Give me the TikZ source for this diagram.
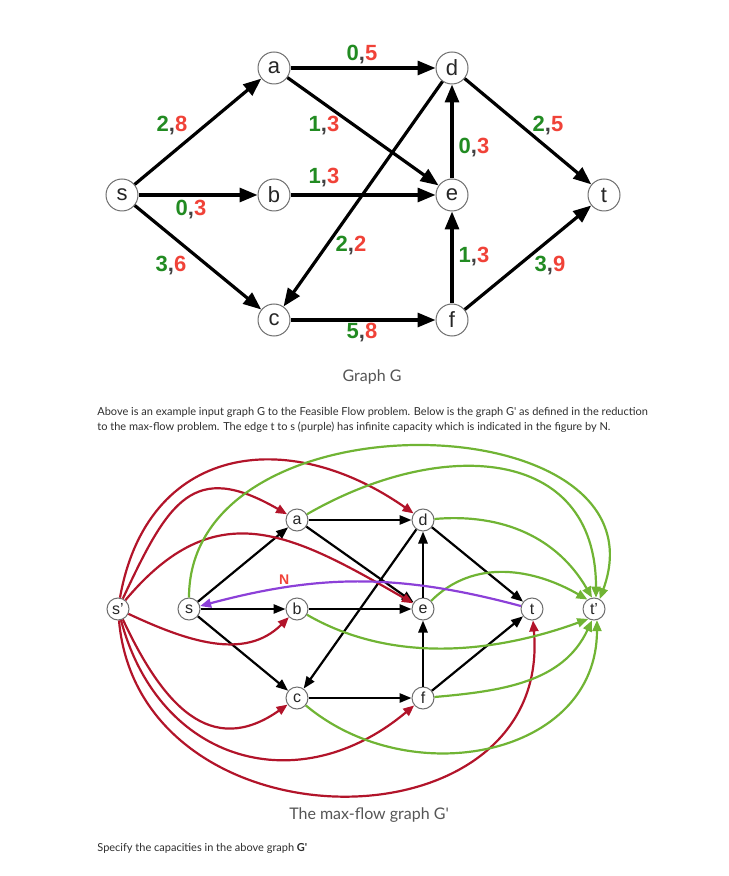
\documentclass[tikz,border=0pt]{standalone}
\usepackage{fontspec}
\setmainfont{Liberation Sans}
\newfontfamily\latofont{Lato}
\usetikzlibrary{arrows.meta}
\definecolor{lgreen}{RGB}{34,139,34}
\definecolor{lred}{RGB}{240,66,56}
\definecolor{vgray}{RGB}{110,110,110}
\definecolor{ered}{RGB}{178,20,42}
\definecolor{egreen}{RGB}{112,180,52}
\definecolor{epurple}{RGB}{140,64,216}
\definecolor{capgray}{RGB}{85,85,85}
\definecolor{txtgray}{RGB}{45,45,45}
\newcommand{\fc}[2]{{\color{lgreen}#1}{\color{darkgray},}{\color{lred}#2}}
\tikzset{
  vtx/.style={circle,draw=vgray,line width=0.5pt,fill=white,inner sep=0pt,minimum size=16pt,text=black!85,font=\fontsize{11}{13}\selectfont},
  svtx/.style={vtx,minimum size=11pt,font=\fontsize{8}{10}\selectfont},
  lbl/.style={inner sep=0pt,font=\bfseries\fontsize{11}{13}\selectfont},
  bigarc/.style={line width=1.6pt,-{Triangle[length=9pt,width=7pt]}},
  arc/.style={line width=1.1pt,-{Triangle[length=6pt,width=4.6pt]}},
  redarc/.style={line width=1.1pt,color=ered,-{Triangle[length=5.5pt,width=4.5pt]}},
  grnarc/.style={line width=1.1pt,color=egreen,-{Triangle[length=5.5pt,width=4.5pt]}},
  purarc/.style={line width=1.1pt,color=epurple,-{Triangle[length=5.5pt,width=4.5pt]}},
  capt/.style={inner sep=0pt,text=capgray,font=\latofont\fontsize{8}{10}\selectfont},
  para/.style={inner sep=0pt,anchor=west,text=txtgray,font=\latofont\fontsize{5.5}{7}\selectfont}
}

\begin{document}
\begin{tikzpicture}[x=0.5pt,y=0.5pt]
\useasboundingbox (0,0) rectangle (728,-876);

% graph G
\foreach \n/\x/\y in {s/122/195,a/274/68,b/274/195,c/274/320,d/452/68,e/452/195,f/452/320,t/604/195}
  \node[vtx] (\n) at (\x,-\y) {\n};
\foreach \u/\v in {s/a,s/b,s/c,a/d,a/e,b/e,c/f,d/c,d/t,e/d,f/e,f/t}
  \draw[bigarc] (\u) -- (\v);
% flow,capacity
\foreach \nm/\x/\y/\p/\q in {sa/172/126/2/8,ae/324/126/1/3,ad/362/55/0/5,dt/548/126/2/5,
    ed/474/148/0/3,be/324/178/1/3,sb/191/210/0/3,dc/351/246/2/2,sc/171/266/3/6,
    fe/474/257/1/3,ft/550/266/3/9,cf/362/333/5/8}
  \node[lbl] (l\nm) at (\x,-\y) {\fc{\p}{\q}};

\node[capt] (capG) at (372,-377) {Graph G};
\node[para] (p1) at (97,-412) {Above is an example input graph G to the Feasible Flow problem. Below is the graph G\textquotesingle{} as defined in the reduction};
\node[para] (p2) at (97,-427) {to the max-flow problem. The edge t to s (purple) has infinite capacity which is indicated in the figure by N.};

% graph G'
\foreach \n/\x/\y in {s/189/609,a/297/520,b/297/609,c/297/698,d/423/520,e/423/609,f/423/698,t/532/609}
  \node[svtx] (g\n) at (\x,-\y) {\n};
\node[svtx] (gsp) at (118,-609) {s'};
\node[svtx] (gtp) at (594,-609) {t'};
\foreach \u/\v in {s/a,s/b,s/c,a/d,a/e,b/e,c/f,d/c,d/t,e/d,f/e,f/t}
  \draw[arc] (g\u) -- (g\v);

% from s'
\draw[redarc] (gsp) to[out=80,in=145,looseness=1.3] (gd);
\draw[redarc] (gsp) to[out=65,in=150,looseness=1.5] (ga);
\draw[redarc] (gsp) to[out=50,in=150,looseness=1.25] (ge);
\draw[redarc] (gsp) to[out=-25,in=-135] (gb);
\draw[redarc] (gsp) to[out=-65,in=-145,looseness=1.3] (gc);
\draw[redarc] (gsp) to[out=-75,in=-140,looseness=1.25] (gf);
\draw[redarc] (gsp) to[out=-85,in=-85,looseness=1.45] (gt);

% to t'
\draw[grnarc] (gs) to[out=90,in=70,looseness=1.3] (gtp.60);
\draw[grnarc] (ga) to[out=30,in=90,looseness=1.3] (gtp.80);
\draw[grnarc] (gd) to[out=5,in=120] (gtp.100);
\draw[grnarc] (ge) to[out=45,in=150] (gtp.125);
\draw[grnarc] (gb) to[out=-30,in=-160,looseness=.9] (gtp.-120);
\draw[grnarc] (gf) to[out=5,in=-115] (gtp.-100);
\draw[grnarc] (gc) to[out=-40,in=-90,looseness=1.15] (gtp.-75);

% t to s
\draw[purarc] (gt) to[bend right=15] node[pos=.75,above,inner sep=1pt,text=lred,font=\bfseries\fontsize{7}{8}\selectfont] (nlbl) {N} (gs);

\node[capt] (capH) at (369,-815) {The max-flow graph G\textquotesingle};
\node[para] (p3) at (97,-848) {Specify the capacities in the above graph \textbf{G\textquotesingle}};
\end{tikzpicture}
\end{document}
